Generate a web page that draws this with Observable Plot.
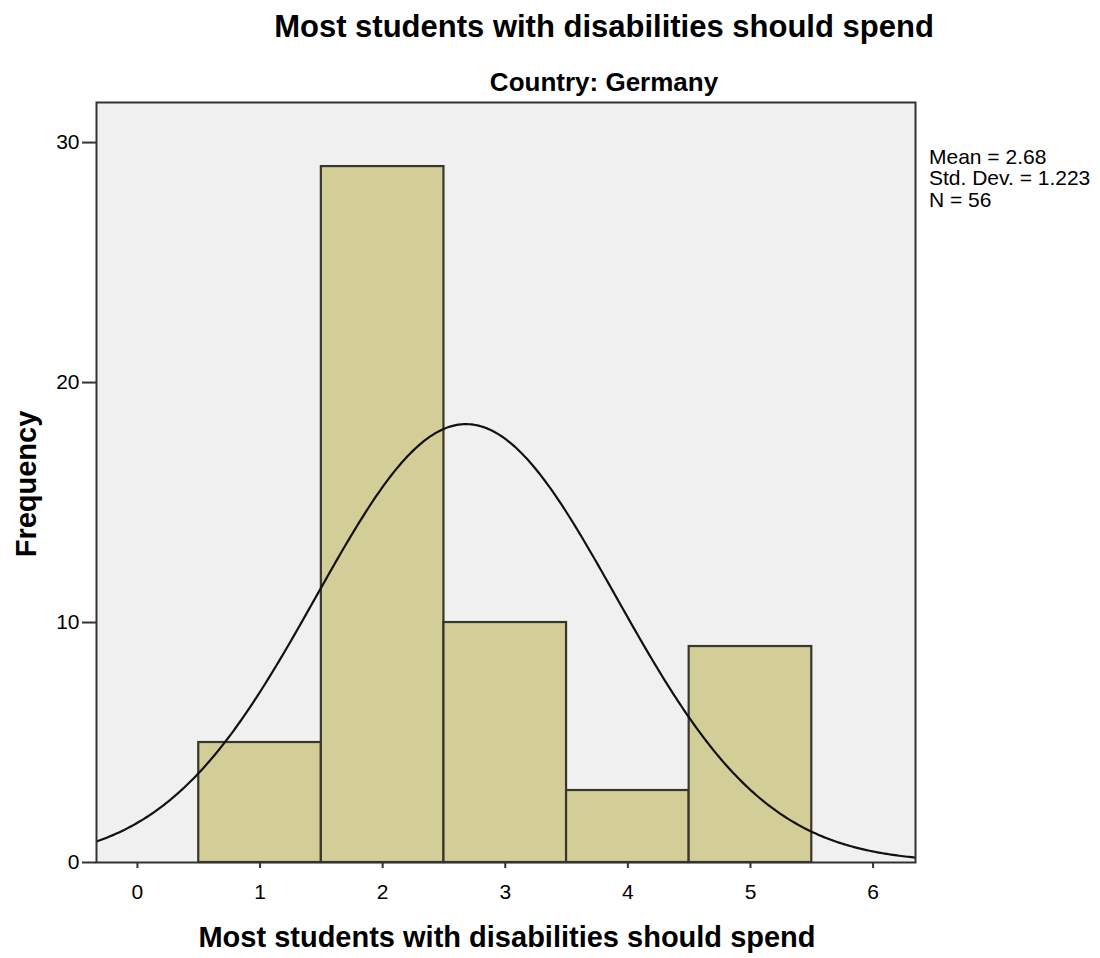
<!DOCTYPE html>
<html><head><meta charset="utf-8">
<script src="https://cdn.jsdelivr.net/npm/d3@7"></script>
<script src="https://cdn.jsdelivr.net/npm/@observablehq/plot@0.6"></script>
<style>
body{margin:0;background:#fff;}
#wrap{position:relative;width:1100px;height:958px;}
.t{position:absolute;white-space:nowrap;color:#000;line-height:1;}
</style></head>
<body><div id="wrap"></div>
<script>
const categories = [1, 2, 3, 4, 5];
const frequencies = [5, 29, 10, 3, 9];
const xTicks = [0, 1, 2, 3, 4, 5, 6];
const yTicks = [0, 10, 20, 30];
const statMean = 2.68, statSD = 1.223, statN = 56;
const titleText = "Most students with disabilities should spend";
const subtitleText = "Country: Germany";
const xLabel = "Most students with disabilities should spend";
const yLabel = "Frequency";
const statLines = ["Mean = 2.68", "Std. Dev. = 1.223", "N = 56"];

const xDomain = [-0.334, 6.346];
const yDomain = [0, 31.67];
const bars = categories.map((c, i) => ({x1: c - 0.5, x2: c + 0.5, y: frequencies[i]}));
// fitted normal curve from the stated mean, sd and N (bin width 1)
const curve = d3.range(0, 401).map(i => {
  const x = xDomain[0] + (xDomain[1] - xDomain[0]) * i / 400;
  const z = (x - statMean) / statSD;
  return {x, y: statN / (statSD * Math.sqrt(2 * Math.PI)) * Math.exp(-0.5 * z * z)};
});

const tickFont = "Liberation Sans, Arial, sans-serif";
const chart = Plot.plot({
  width: 1100, height: 958,
  marginTop: 102, marginBottom: 96, marginLeft: 96, marginRight: 185,
  style: {fontFamily: tickFont, fontSize: "21px", color: "#000", background: "transparent"},
  x: {domain: xDomain, label: null},
  y: {domain: yDomain, label: null},
  marks: [
    Plot.frame({fill: "#f0f0f0", stroke: "none"}),
    Plot.rectY(bars, {x1: "x1", x2: "x2", y: "y", fill: "#d3ce97", stroke: "#38372b", strokeWidth: 2.2}),
    Plot.line(curve, {x: "x", y: "y", stroke: "#111", strokeWidth: 2.2, clip: true}),
    Plot.frame({stroke: "#333", strokeWidth: 2}),
    Plot.axisX({ticks: xTicks, tickFormat: d3.format("d"), tickSize: 6, tickPadding: 16, stroke: "#333", strokeWidth: 2, label: null}),
    Plot.axisY({ticks: yTicks, tickFormat: d3.format("d"), tickSize: 14, tickPadding: 3, stroke: "#333", strokeWidth: 2, label: null})
  ]
});
chart.querySelectorAll('g[aria-label$="tick label"]').forEach(g => {
  g.setAttribute("font-size", "21");
  g.setAttribute("font-family", tickFont);
  g.querySelectorAll("text").forEach(t => t.style.fontSize = "21px");
});
chart.style.position = "absolute";
chart.style.left = "0"; chart.style.top = "0";
const wrap = document.getElementById("wrap");
wrap.appendChild(chart);

function addText(txt, css) {
  const d = document.createElement("div");
  d.className = "t"; d.textContent = txt;
  Object.assign(d.style, css);
  wrap.appendChild(d);
  return d;
}
const bold = "'Liberation Sans', Arial, sans-serif";
addText(titleText, {left: "604px", top: "9px", transform: "translateX(-50%)", font: "bold 31px " + bold});
addText(subtitleText, {left: "604px", top: "67px", transform: "translateX(-50%)", font: "bold 26px " + bold});
addText(xLabel, {left: "507px", top: "921px", transform: "translateX(-50%)", font: "bold 29px " + bold});
addText(yLabel, {left: "26px", top: "484px", transform: "translate(-50%,-50%) rotate(-90deg)", font: "bold 29px " + bold});
statLines.forEach((s, i) => addText(s, {left: "929px", top: (145 + i * 21.3) + "px", font: "21px " + bold}));
</script></body></html>
